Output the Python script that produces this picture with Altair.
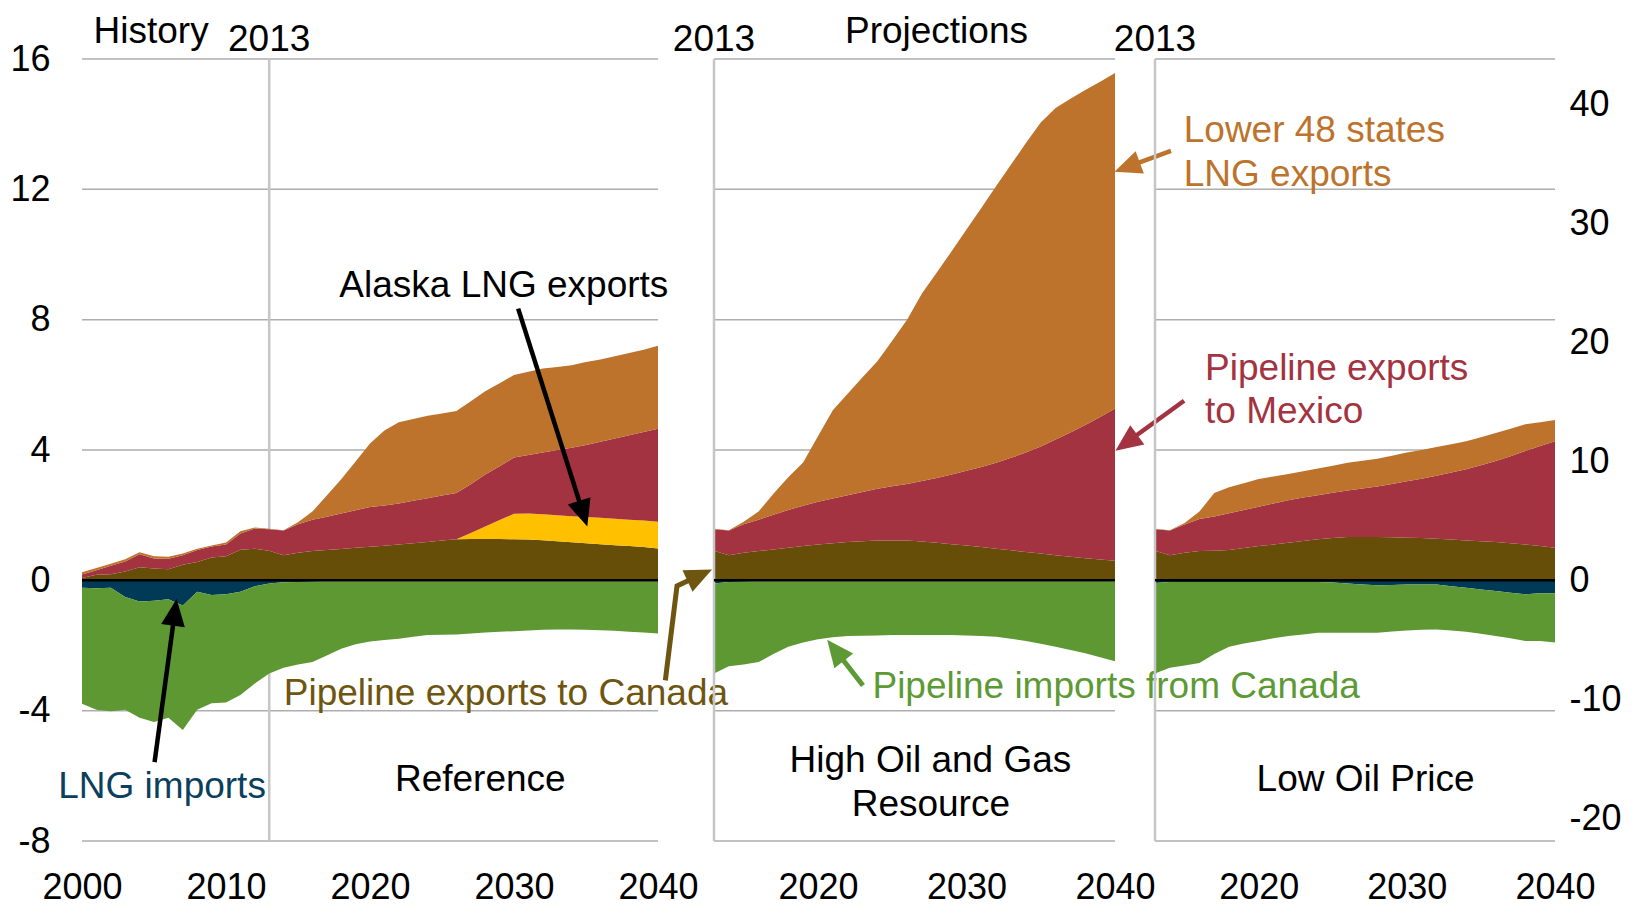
import math
import altair as alt
import pandas as pd

FONT = "Liberation Sans"

# ---------------- data (trillion cubic feet per year) ----------------
ref_years = list(range(2000, 2041))
proj_years = list(range(2013, 2041))

series_names = ["Pipeline exports to Canada", "Alaska LNG exports",
                "Pipeline exports to Mexico", "Lower 48 states LNG exports",
                "LNG imports", "Pipeline imports from Canada"]
series_colors = ["#664E09", "#FFC000", "#A33340", "#BD732C", "#003A57", "#5D9833"]
series_order = [1, 2, 3, 4, 5, 6]

# Reference case, 2000-2040
ref_canada_exports = [0.07, 0.17, 0.19, 0.27, 0.40, 0.36, 0.34, 0.48, 0.56, 0.70, 0.74, 0.94, 0.97, 0.91,
                      0.77, 0.85, 0.90, 0.93, 0.96, 1.00, 1.03, 1.06, 1.10, 1.14, 1.18, 1.22, 1.26, 1.27,
                      1.27, 1.27, 1.26, 1.25, 1.23, 1.20, 1.17, 1.14, 1.11, 1.08, 1.05, 1.02, 0.98]
ref_alaska_lng = [0, 0, 0, 0, 0, 0, 0, 0, 0, 0, 0, 0, 0, 0,
                  0, 0, 0, 0, 0, 0, 0, 0, 0, 0, 0, 0, 0, 0.18,
                  0.38, 0.58, 0.78, 0.80, 0.80, 0.80, 0.80, 0.80, 0.81, 0.81, 0.81, 0.82, 0.82]
ref_mexico = [0.11, 0.14, 0.26, 0.31, 0.40, 0.31, 0.32, 0.29, 0.37, 0.34, 0.36, 0.50, 0.62, 0.66,
              0.76, 0.87, 0.96, 1.02, 1.09, 1.15, 1.22, 1.24, 1.26, 1.30, 1.34, 1.38, 1.42, 1.50,
              1.60, 1.65, 1.73, 1.80, 1.89, 2.00, 2.10, 2.21, 2.33, 2.46, 2.59, 2.71, 2.85]
ref_l48_lng = [0.07, 0.07, 0.06, 0.07, 0.06, 0.07, 0.06, 0.05, 0.04, 0.03, 0.06, 0.07, 0.03, 0.01,
               0.01, 0.06, 0.25, 0.65, 1.05, 1.50, 1.95, 2.30, 2.49, 2.51, 2.53, 2.52, 2.52, 2.55,
               2.55, 2.55, 2.53, 2.55, 2.58, 2.55, 2.53, 2.55, 2.53, 2.53, 2.53, 2.53, 2.55]
ref_lng_imports = [-0.23, -0.24, -0.23, -0.51, -0.65, -0.63, -0.58, -0.77, -0.35, -0.45, -0.43, -0.35, -0.18, -0.10,
                   -0.06, -0.05, -0.04, -0.03, -0.03, -0.03, -0.03, -0.03, -0.03, -0.03, -0.03, -0.03, -0.03, -0.03,
                   -0.03, -0.03, -0.03, -0.03, -0.03, -0.03, -0.03, -0.03, -0.03, -0.03, -0.03, -0.03, -0.03]
ref_canada_imports = [-3.56, -3.73, -3.79, -3.46, -3.57, -3.72, -3.64, -3.82, -3.62, -3.32, -3.32, -3.17, -2.99, -2.76,
                      -2.62, -2.53, -2.47, -2.28, -2.07, -1.93, -1.85, -1.80, -1.76, -1.70, -1.65, -1.64, -1.63, -1.60,
                      -1.57, -1.55, -1.53, -1.51, -1.49, -1.48, -1.48, -1.49, -1.50, -1.52, -1.55, -1.57, -1.60]

# High Oil and Gas Resource case, 2013-2040
hogr_canada_exports = [0.91, 0.77, 0.85, 0.90, 0.95, 1.00, 1.05, 1.10, 1.14, 1.18, 1.20, 1.22, 1.22, 1.22,
                       1.19, 1.15, 1.11, 1.07, 1.02, 0.97, 0.92, 0.87, 0.82, 0.77, 0.72, 0.68, 0.64, 0.60]
hogr_alaska_lng = [0, 0, 0, 0, 0, 0, 0, 0, 0, 0, 0, 0, 0, 0,
                   0, 0, 0, 0, 0, 0, 0, 0, 0, 0, 0, 0, 0, 0]
hogr_mexico = [0.66, 0.76, 0.87, 0.96, 1.06, 1.16, 1.24, 1.31, 1.37, 1.43, 1.51, 1.59, 1.67, 1.74,
               1.86, 1.99, 2.14, 2.29, 2.46, 2.64, 2.84, 3.05, 3.29, 3.55, 3.82, 4.09, 4.37, 4.67]
hogr_l48_lng = [0.01, 0.01, 0.08, 0.25, 0.65, 1.00, 1.33, 2.01, 2.71, 3.12, 3.52, 3.91, 4.46, 5.04,
                5.75, 6.31, 6.85, 7.41, 7.95, 8.49, 9.00, 9.50, 9.94, 10.18, 10.24, 10.28, 10.29, 10.30]
hogr_lng_imports = [-0.10, -0.05, -0.04, -0.03, -0.03, -0.03, -0.03, -0.03, -0.03, -0.03, -0.03, -0.03, -0.03, -0.03,
                    -0.03, -0.03, -0.03, -0.03, -0.03, -0.03, -0.03, -0.03, -0.03, -0.03, -0.03, -0.03, -0.03, -0.03]
hogr_canada_imports = [-2.76, -2.59, -2.54, -2.48, -2.23, -2.01, -1.88, -1.78, -1.72, -1.68, -1.67, -1.66, -1.65, -1.65,
                       -1.65, -1.65, -1.65, -1.66, -1.68, -1.70, -1.76, -1.83, -1.92, -2.01, -2.11, -2.21, -2.33, -2.45]

# Low Oil Price case, 2013-2040
lop_canada_exports = [0.91, 0.77, 0.85, 0.90, 0.91, 0.93, 0.99, 1.05, 1.10, 1.15, 1.21, 1.26, 1.30, 1.33,
                      1.33, 1.33, 1.32, 1.31, 1.30, 1.28, 1.25, 1.22, 1.20, 1.18, 1.14, 1.10, 1.05, 1.00]
lop_alaska_lng = [0, 0, 0, 0, 0, 0, 0, 0, 0, 0, 0, 0, 0, 0,
                  0, 0, 0, 0, 0, 0, 0, 0, 0, 0, 0, 0, 0, 0]
lop_mexico = [0.66, 0.76, 0.86, 0.98, 1.05, 1.13, 1.17, 1.21, 1.26, 1.31, 1.33, 1.35, 1.39, 1.43,
              1.49, 1.55, 1.64, 1.73, 1.82, 1.93, 2.06, 2.19, 2.33, 2.48, 2.67, 2.87, 3.07, 3.27]
lop_l48_lng = [0.01, 0.01, 0.05, 0.23, 0.72, 0.80, 0.82, 0.85, 0.83, 0.80, 0.81, 0.82, 0.83, 0.85,
               0.85, 0.85, 0.86, 0.88, 0.88, 0.88, 0.87, 0.86, 0.86, 0.86, 0.84, 0.82, 0.73, 0.65]
lop_lng_imports = [-0.08, -0.05, -0.05, -0.05, -0.05, -0.05, -0.05, -0.05, -0.05, -0.05, -0.05, -0.05, -0.07, -0.10,
                   -0.13, -0.15, -0.14, -0.13, -0.13, -0.13, -0.18, -0.23, -0.28, -0.33, -0.38, -0.43, -0.40, -0.40]
lop_canada_imports = [-2.78, -2.63, -2.56, -2.49, -2.21, -1.99, -1.89, -1.81, -1.73, -1.66, -1.61, -1.56, -1.54, -1.51,
                      -1.48, -1.46, -1.43, -1.41, -1.39, -1.38, -1.36, -1.35, -1.36, -1.38, -1.40, -1.43, -1.46, -1.51]

grid_values = [-8, -4, 0, 4, 8, 12, 16]
right_axis_values = [-20, -10, 0, 10, 20, 30, 40]
ref_x_ticks = [2000, 2010, 2020, 2030, 2040]
proj_x_ticks = [2020, 2030, 2040]
TCF_TO_BCFD = 1000.0 / 365.0

# ---------------- layout / style ----------------
PLOT_H = 782
LEFT_RANGE = 576
LEFT_VIEW = 592
MID_W = 401
RIGHT_W = 400
SPACING = 40
PX_PER_UNIT = PLOT_H / 24.0
GRID_COLOR = "#ADADAD"
VLINE_COLOR = "#C6C6C6"
TICK_FS = 36
ANN_FS = 37
ORANGE = "#BD732C"
RED = "#A33340"
BROWN_TXT = "#6E5510"
GREEN_TXT = "#5D9A35"
NAVY_TXT = "#0B3F5E"
ARROW_PATH = "M0,0L0.75,1.7L-0.75,1.7Z"
HEAD_SIZE = 1010
HEAD_LEN = math.sqrt(HEAD_SIZE) / 2 * 1.7


def long_table(years, cols):
    rows = []
    for name, vals, o in zip(series_names, cols, series_order):
        assert len(vals) == len(years), name
        for yr, v in zip(years, vals):
            rows.append({"year": yr, "series": name, "value": v, "ord": o})
    return pd.DataFrame(rows)


ref_table = long_table(ref_years, [ref_canada_exports, ref_alaska_lng, ref_mexico, ref_l48_lng,
                                   ref_lng_imports, ref_canada_imports])
hogr_table = long_table(proj_years, [hogr_canada_exports, hogr_alaska_lng, hogr_mexico, hogr_l48_lng,
                                     hogr_lng_imports, hogr_canada_imports])
lop_table = long_table(proj_years, [lop_canada_exports, lop_alaska_lng, lop_mexico, lop_l48_lng,
                                    lop_lng_imports, lop_canada_imports])


def make_panel(table, x0, x1, range_w, view_w, xticks, show_y_axis, vline_x, vline_on_top,
               arrows, texts, secondary=False):
    px_per_year = range_w / float(x1 - x0)
    xs = alt.Scale(domain=[x0, x1], range=[0, range_w], nice=False, zero=False)
    ys = alt.Scale(domain=[-8, 16], nice=False, zero=False)
    xaxis = alt.Axis(values=xticks, labelExpr="'' + datum.value", labelFontSize=TICK_FS, labelFont=FONT,
                     labelColor="black", labelPadding=29, ticks=False, tickSize=0, domain=False,
                     grid=False, title=None, labelFlush=False, labelOverlap=False)
    if show_y_axis:
        yaxis = alt.Axis(values=grid_values, labelExpr="'' + datum.value", labelFontSize=TICK_FS,
                         labelFont=FONT, labelColor="black", labelPadding=32, ticks=False, tickSize=0,
                         domain=False, grid=False, title=None, labelFlush=False, labelOverlap=False)
    else:
        yaxis = None

    def X(f):
        return alt.X(f, scale=xs, axis=xaxis, title=None)

    def Y(f):
        return alt.Y(f, scale=ys, axis=yaxis, title=None)

    layers = []
    grid_df = pd.DataFrame({"y": grid_values, "xa": [x0] * len(grid_values), "xb": [x1] * len(grid_values)})
    layers.append(alt.Chart(grid_df).mark_rule(color=GRID_COLOR, strokeWidth=1.5)
                  .encode(x=X("xa:Q"), x2="xb:Q", y=Y("y:Q")))
    vline = (alt.Chart(pd.DataFrame({"x": [vline_x], "ya": [-8], "yb": [16]}))
             .mark_rule(color=VLINE_COLOR, strokeWidth=2.5)
             .encode(x=X("x:Q"), y=Y("ya:Q"), y2="yb:Q"))
    if not vline_on_top:
        layers.append(vline)
    area = (alt.Chart(table)
            .transform_stack(stack="value", groupby=["year"], as_=["y0", "y1"], offset="zero",
                             sort=[alt.SortField("ord", order="ascending")])
            .mark_area(interpolate="linear", opacity=1)
            .encode(x=X("year:Q"), y=Y("y0:Q"), y2="y1:Q",
                    fill=alt.Fill("series:N", scale=alt.Scale(domain=series_names, range=series_colors),
                                  legend=None),
                    detail="series:N"))
    layers.append(area)
    if vline_on_top:
        layers.append(vline)
    layers.append(alt.Chart(pd.DataFrame({"y": [0], "xa": [x0], "xb": [x1]}))
                  .mark_rule(color="black", strokeWidth=2.5)
                  .encode(x=X("xa:Q"), x2="xb:Q", y=Y("y:Q")))

    # arrows
    for arr in arrows:
        pts = arr["pts"]
        (px_, py_), (tx, ty) = pts[-2], pts[-1]
        dx = (tx - px_) * px_per_year
        dy = -(ty - py_) * PX_PER_UNIT  # screen, down positive
        length = math.hypot(dx, dy)
        ux, uy = dx / length, dy / length
        back = HEAD_LEN * 0.7
        end_x = tx - ux * back / px_per_year
        end_y = ty + uy * back / PX_PER_UNIT
        shaft_pts = pts[:-1] + [(end_x, end_y)]
        shaft_df = pd.DataFrame({"x": [p[0] for p in shaft_pts], "y": [p[1] for p in shaft_pts],
                                 "k": list(range(len(shaft_pts)))})
        layers.append(alt.Chart(shaft_df).mark_line(color=arr["color"], strokeWidth=arr["w"],
                                                    strokeCap="butt", strokeJoin="miter")
                      .encode(x=X("x:Q"), y=Y("y:Q"), order="k:Q"))
        ang = math.degrees(math.atan2(dx, -dy)) % 360
        layers.append(alt.Chart(pd.DataFrame({"x": [tx], "y": [ty]}))
                      .mark_point(shape=ARROW_PATH, filled=True, color=arr["color"], opacity=1,
                                  size=HEAD_SIZE, angle=ang, strokeWidth=0)
                      .encode(x=X("x:Q"), y=Y("y:Q")))

    for (t, tx, ty, col, al) in texts:
        layers.append(alt.Chart(pd.DataFrame({"x": [tx], "y": [ty], "t": [t]}))
                      .mark_text(align=al, baseline="alphabetic", font=FONT, fontSize=ANN_FS, color=col)
                      .encode(x=X("x:Q"), y=Y("y:Q"), text="t:N"))

    main = alt.layer(*layers)
    if secondary:
        lo, hi = -8 * TCF_TO_BCFD, 16 * TCF_TO_BCFD
        sec = (alt.Chart(pd.DataFrame({"v": [lo, hi]})).mark_point(opacity=0)
               .encode(y=alt.Y("v:Q", scale=alt.Scale(domain=[lo, hi], nice=False, zero=False),
                               axis=alt.Axis(orient="right", values=right_axis_values,
                                             labelExpr="'' + datum.value", labelFontSize=TICK_FS,
                                             labelFont=FONT, labelColor="black", labelPadding=14,
                                             ticks=False, tickSize=0, domain=False, grid=False,
                                             title=None, labelFlush=False, labelOverlap=False),
                               title=None)))
        main = alt.layer(main, sec).resolve_scale(y="independent")
    return main.properties(width=view_w, height=PLOT_H)


left_arrows = [
    dict(pts=[(2030.29, 8.34), (2035.09, 1.65)], color="black", w=4.5),
    dict(pts=[(2005.04, -5.58), (2006.57, -0.57)], color="black", w=4.5),
    dict(pts=[(2040.51, -3.07), (2041.32, -0.17), (2043.75, 0.33)], color=BROWN_TXT, w=5),
]
mid_arrows = [
    dict(pts=[(2023.03, -3.23), (2020.62, -1.82)], color=GREEN_TXT, w=5),
    dict(pts=[(2043.77, 13.18), (2039.96, 12.54)], color=ORANGE, w=4.5),
    dict(pts=[(2044.65, 5.51), (2040.03, 3.98)], color=RED, w=4.5),
]
left_texts = [
    ("History", 2000.8, 16.5, "black", "left"),
    ("2013", 2013, 16.26, "black", "center"),
    ("Reference", 2027.66, -6.48, "black", "center"),
    ("Alaska LNG exports", 2017.87, 8.69, "black", "left"),
    ("LNG imports", 1998.35, -6.68, NAVY_TXT, "left"),
    ("Pipeline exports to Canada", 2014.01, -3.83, BROWN_TXT, "left"),
]
mid_texts = [
    ("2013", 2013, 16.26, "black", "center"),
    ("Projections", 2027.98, 16.5, "black", "center"),
    ("High Oil and Gas", 2027.57, -5.88, "black", "center"),
    ("Resource", 2027.6, -7.23, "black", "center"),
    ("Pipeline imports from Canada", 2023.67, -3.62, GREEN_TXT, "left"),
]
right_texts = [
    ("2013", 2013, 16.26, "black", "center"),
    ("Low Oil Price", 2027.21, -6.48, "black", "center"),
    ("Lower 48 states", 2014.94, 13.46, ORANGE, "left"),
    ("LNG exports", 2014.94, 12.09, ORANGE, "left"),
    ("Pipeline exports", 2016.38, 6.14, RED, "left"),
    ("to Mexico", 2016.38, 4.83, RED, "left"),
]

left = make_panel(ref_table, 2000, 2040, LEFT_RANGE, LEFT_VIEW, ref_x_ticks, True, 2013, False,
                  left_arrows, left_texts)
mid = make_panel(hogr_table, 2013, 2040, MID_W, MID_W, proj_x_ticks, False, 2013, True,
                 mid_arrows, mid_texts)
right = make_panel(lop_table, 2013, 2040, RIGHT_W, RIGHT_W, proj_x_ticks, False, 2013, True,
                   [], right_texts, secondary=True)

chart = (alt.hconcat(left, mid, right, spacing=SPACING, bounds="flush")
         .configure_view(stroke=None)
         .properties(padding={"left": 1, "top": 4, "right": 4, "bottom": 0}, background="white"))

chart.save("out.html", embed_options={"renderer": "svg", "actions": False})
